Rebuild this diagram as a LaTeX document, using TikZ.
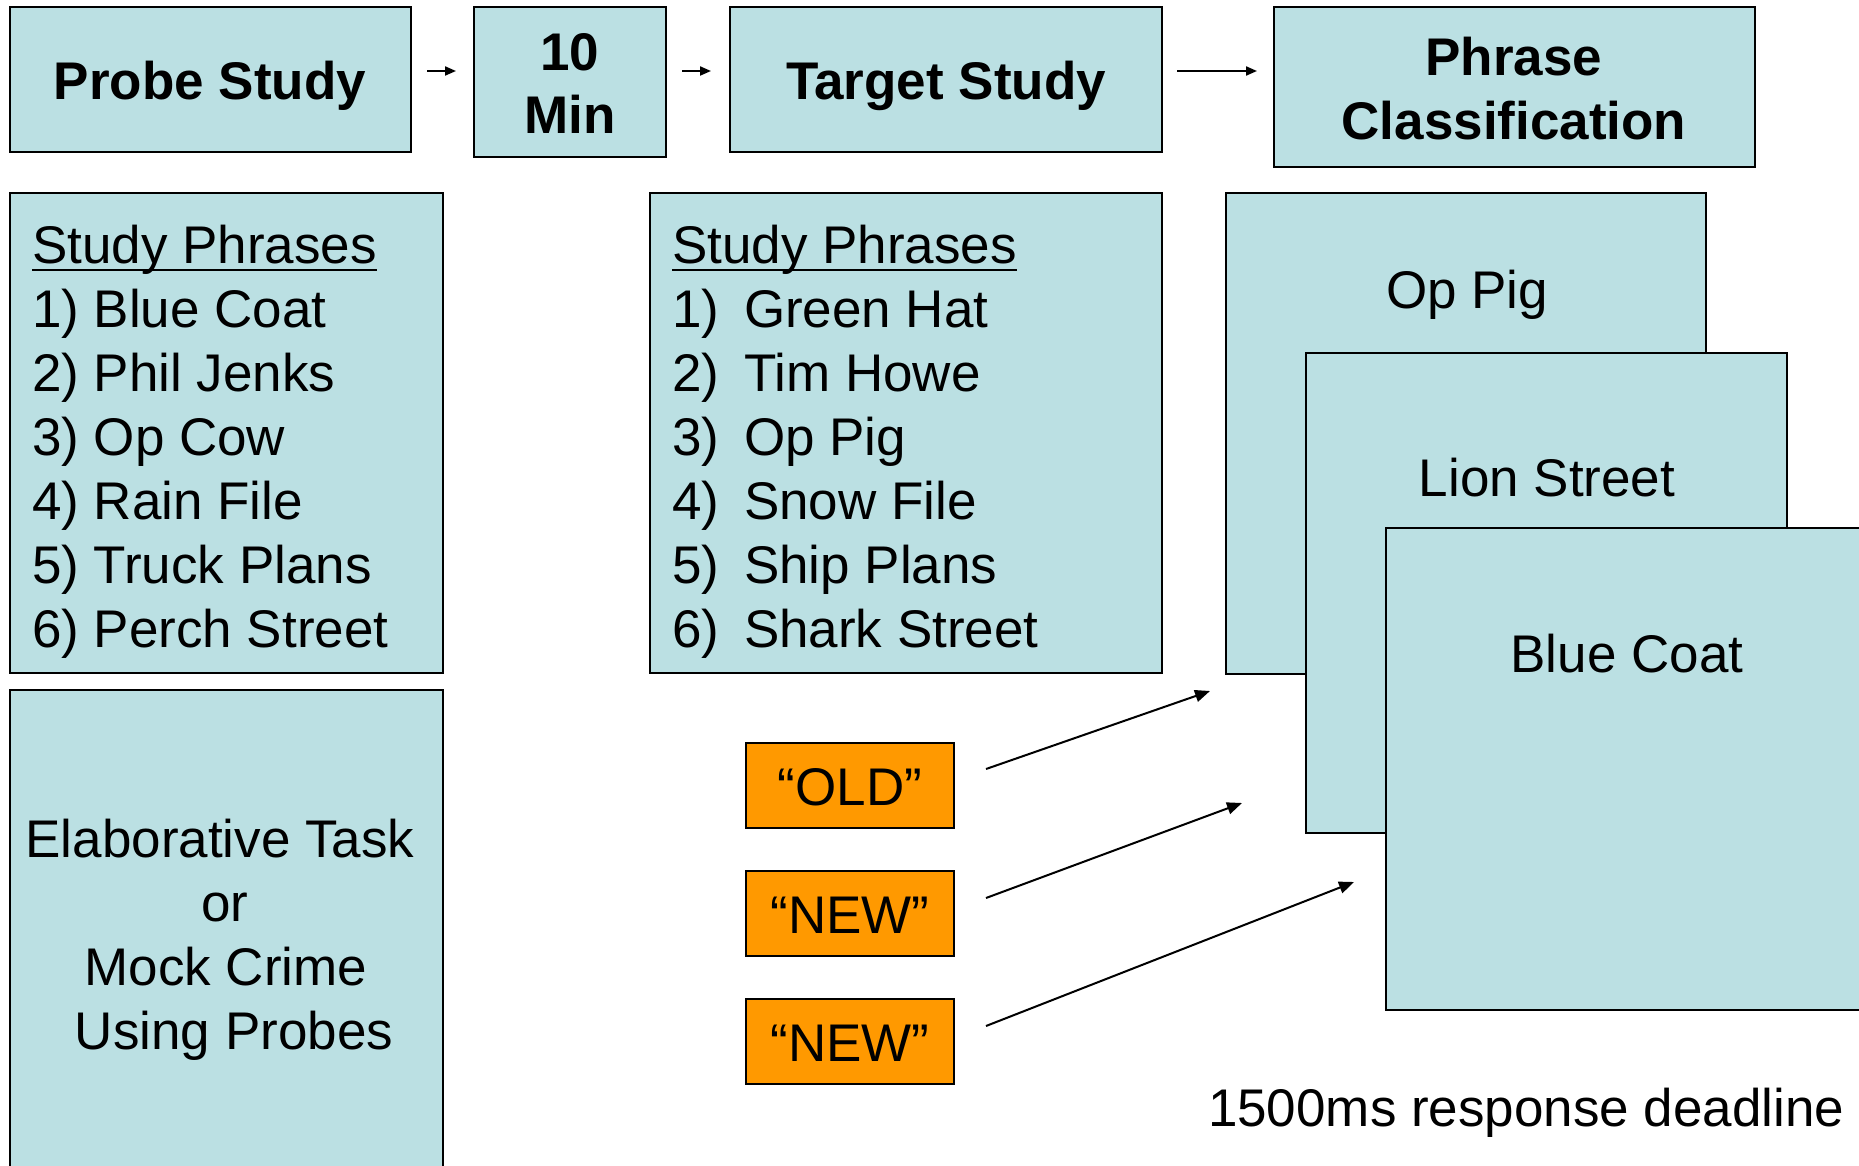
\documentclass[tikz,border=0pt]{standalone}
\usepackage{fontspec}
\setmainfont{Liberation Sans}
\usetikzlibrary{arrows.meta}
\definecolor{paleblue}{HTML}{BBE0E3}
\definecolor{amber}{HTML}{FF9900}

\begin{document}
\begin{tikzpicture}[x=1pt,y=-1pt,
  panel/.style={draw=black,line width=2pt,fill=paleblue,inner sep=0pt,outer sep=0pt,anchor=north west},
  tag/.style={draw=black,line width=2pt,fill=amber,inner sep=0pt,outer sep=0pt,anchor=north west},
  txt/.style={inner sep=0pt,outer sep=0pt,font=\fontsize{53}{64}\selectfont},
  bold/.style={inner sep=0pt,outer sep=0pt,font=\fontsize{53}{64}\selectfont\bfseries},
  flow/.style={line width=2pt,-{Triangle[length=11pt,width=9pt]}},
  pointer/.style={line width=2pt,-{Triangle[length=15pt,width=12pt]}}
]
\useasboundingbox (0,0) rectangle (1859,1166);
\clip (0,0) rectangle (1859,1166);

% ---- stage boxes along the top ----
\node[panel,minimum width=401pt,minimum height=145pt] (probe)  at (10,7) {};
\node[panel,minimum width=192pt,minimum height=150pt] (delay)  at (474,7) {};
\node[panel,minimum width=432pt,minimum height=145pt] (target) at (730,7) {};
\node[panel,minimum width=481pt,minimum height=160pt] (classif) at (1274,7) {};

\node[bold,anchor=base] (probeT) at (210,100) {Probe Study};
\node[bold,anchor=base] (delayA) at (570,71) {10};
\node[bold,anchor=base] (delayB) at (570,134) {Min};
\node[bold,anchor=base] (targetT) at (946,100) {Target Study};
\node[bold,anchor=base] (classA) at (1514,76) {Phrase};
\node[bold,anchor=base] (classB) at (1514,140) {Classification};

% arrows between the stages
\coordinate (f1s) at (427,71); \coordinate (f1e) at (456,71);
\coordinate (f2s) at (682,71); \coordinate (f2e) at (711,71);
\coordinate (f3s) at (1177,71); \coordinate (f3e) at (1257,71);
\draw[flow] (f1s) -- (f1e);
\draw[flow] (f2s) -- (f2e);
\draw[flow] (f3s) -- (f3e);

% ---- probe study phrases ----
\node[panel,minimum width=433pt,minimum height=480pt] (plist) at (10,193) {};
\node[txt,anchor=base west] (ph) at (32,263) {Study Phrases};
\draw[line width=2.7pt] ([yshift=-7pt]ph.base west) -- ([yshift=-7pt]ph.base east);
\node[txt,anchor=base west] (p1) at (32,327) {1) Blue Coat};
\node[txt,anchor=base west] (p2) at (32,391) {2) Phil Jenks};
\node[txt,anchor=base west] (p3) at (32,455) {3) Op Cow};
\node[txt,anchor=base west] (p4) at (32,519) {4) Rain File};
\node[txt,anchor=base west] (p5) at (32,583) {5) Truck Plans};
\node[txt,anchor=base west] (p6) at (32,647) {6) Perch Street};

% ---- encoding task ----
\node[panel,minimum width=433pt,minimum height=490pt] (elab) at (10,690) {};
\node[txt,anchor=base] (e1) at (220,857) {Elaborative Task};
\node[txt,anchor=base] (e2) at (225,921) {or};
\node[txt,anchor=base] (e3) at (226,985) {Mock Crime};
\node[txt,anchor=base] (e4) at (234,1049) {Using Probes};

% ---- target study phrases ----
\node[panel,minimum width=512pt,minimum height=480pt] (tlist) at (650,193) {};
\node[txt,anchor=base west] (th) at (672,263) {Study Phrases};
\draw[line width=2.7pt] ([yshift=-7pt]th.base west) -- ([yshift=-7pt]th.base east);
\foreach \n/\w [count=\i from 0] in {1/Green Hat,2/Tim Howe,3/Op Pig,4/Snow File,5/Ship Plans,6/Shark Street}{
  \node[txt,anchor=base west] (tn\n) at (672,327+64*\i) {\n)};
  \node[txt,anchor=base west] (tw\n) at (744,327+64*\i) {\w};
}

% ---- classification cards ----
\node[panel,minimum width=480pt,minimum height=481pt] (card1) at (1226,193) {};
\node[txt,anchor=base] (c1) at (1467,308) {Op Pig};
\node[panel,minimum width=481pt,minimum height=480pt] (card2) at (1306,353) {};
\node[txt,anchor=base] (c2) at (1547,496) {Lion Street};
\node[panel,minimum width=481pt,minimum height=482pt] (card3) at (1386,528) {};
\node[txt,anchor=base] (c3) at (1627,672) {Blue Coat};

% ---- responses ----
\node[tag,minimum width=208pt,minimum height=85pt] (r1) at (746,743) {};
\node[txt,anchor=base] (r1t) at (850,805) {“OLD”};
\node[tag,minimum width=208pt,minimum height=85pt] (r2) at (746,871) {};
\node[txt,anchor=base] (r2t) at (850,933) {“NEW”};
\node[tag,minimum width=208pt,minimum height=85pt] (r3) at (746,999) {};
\node[txt,anchor=base] (r3t) at (850,1061) {“NEW”};

\coordinate (g1s) at (986,769);  \coordinate (g1e) at (1210,691);
\coordinate (g2s) at (986,898);  \coordinate (g2e) at (1242,803);
\coordinate (g3s) at (986,1026); \coordinate (g3e) at (1354,882);
\draw[pointer] (g1s) -- (g1e);
\draw[pointer] (g2s) -- (g2e);
\draw[pointer] (g3s) -- (g3e);

\node[txt,anchor=base west] (deadline) at (1208,1126) {1500ms response deadline};
\end{tikzpicture}
\end{document}
